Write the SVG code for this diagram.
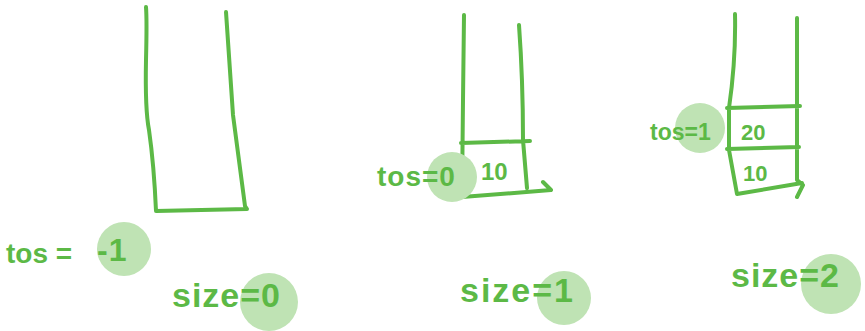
<svg xmlns="http://www.w3.org/2000/svg" width="865" height="331" viewBox="0 0 865 331">
<style>
.ln{fill:none;stroke:#5cb946;stroke-width:4;stroke-linecap:round;stroke-linejoin:round}
.hl{fill:#bfe3b4}
.t{font-family:"Liberation Sans",Arial,sans-serif;font-weight:bold;fill:#5cb946}
</style>
<rect width="865" height="331" fill="#fff"/>
<g id="stack1">
<path class="ln" d="M146 7 Q147 20 146 60 Q145 110 149 130 Q154 165 156 211 L247 209 L245 206 L233 115 L226 12"/>
</g>
<g id="tos1">
<circle class="hl" cx="124" cy="249" r="27"/>
<text class="t" x="6" y="263" font-size="28">tos =</text>
<text class="t" x="97" y="261" font-size="32" letter-spacing="1">-1</text>
</g>
<g id="size1">
<circle class="hl" cx="269" cy="302" r="29"/>
<text class="t" x="172" y="307" font-size="34" letter-spacing="1">size=0</text>
</g>
<g id="stack2">
<path class="ln" d="M464 15 L463 100 L462 197 L551 190 M519 25 Q523 80 523 140 L527 188 M461 143 L530 141 M543 182 L551 190"/>
<text class="t" x="481" y="180" font-size="24">10</text>
</g>
<g id="tos2">
<circle class="hl" cx="452" cy="177" r="25"/>
<text class="t" x="377" y="186" font-size="28" letter-spacing="1">tos=0</text>
</g>
<g id="size2">
<circle class="hl" cx="564" cy="298" r="27"/>
<text class="t" x="460" y="302" font-size="34" letter-spacing="2">size=1</text>
</g>
<g id="stack3">
<path class="ln" d="M735 14 Q736 60 729 108 L729 150 L737 194 L802 183 M797 18 L797 145 L797 180 L803 185 L797 197 M727 108 L800 106 M727 149 L799 147"/>
<text class="t" x="741" y="140" font-size="22">20</text>
<text class="t" x="743" y="181" font-size="22">10</text>
</g>
<g id="tos3">
<circle class="hl" cx="700" cy="128" r="25"/>
<text class="t" x="650" y="140" font-size="23">tos=1</text>
</g>
<g id="size3">
<circle class="hl" cx="831" cy="284" r="30"/>
<text class="t" x="731" y="287" font-size="34" letter-spacing="1">size=2</text>
</g>
</svg>
